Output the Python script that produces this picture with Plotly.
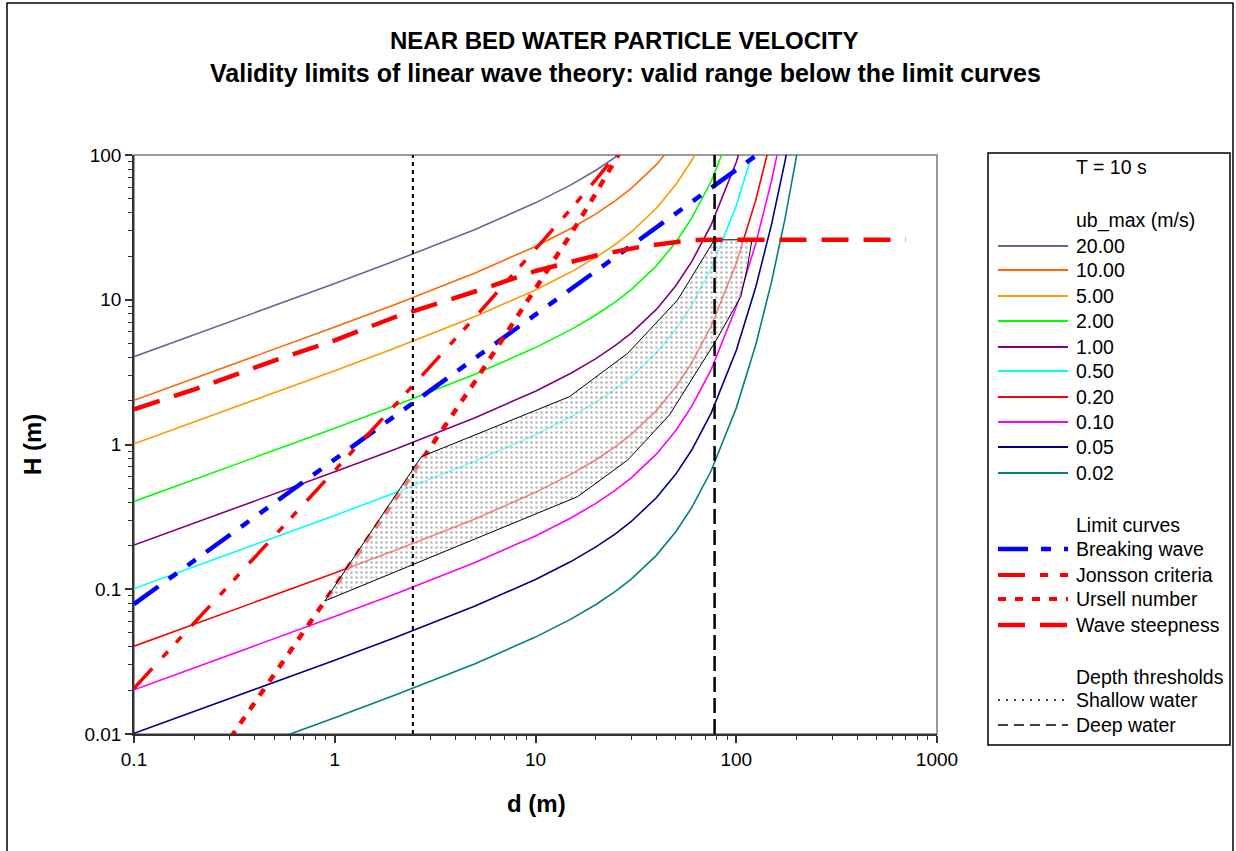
import plotly.graph_objects as go

# ---------------- data ----------------
d_grid = [0.1, 0.2, 0.5, 1, 2, 5, 10, 15, 20, 25, 30, 40, 50, 60, 75, 100, 125, 150, 175, 200, 250]

velocity_labels = ["20.00", "10.00", "5.00", "2.00", "1.00", "0.50", "0.20", "0.10", "0.05", "0.02"]
velocity_colors = ["#666699", "#FF6600", "#FF9900", "#00FF00", "#800080",
                   "#00FFFF", "#FF0000", "#FF00FF", "#000080", "#008080"]

H_u20 = [4.044, 5.728, 9.092, 12.94, 18.56, 30.62, 46.72, 62.14, 78.47, 96.65, 117.6]
H_u10 = [2.022, 2.864, 4.546, 6.472, 9.280, 15.31, 23.36, 31.07, 39.23, 48.32, 58.79, 85.76, 124.9]
H_u5 = [1.011, 1.432, 2.273, 3.236, 4.640, 7.656, 11.68, 15.53, 19.62, 24.16, 29.39, 42.88, 62.47, 91.61, 164.7]
H_u2 = [0.4044, 0.5728, 0.9092, 1.294, 1.856, 3.062, 4.672, 6.214, 7.847, 9.665, 11.76, 17.15, 24.99,
        36.64, 65.86, 178.4]
H_u1 = [0.2022, 0.2864, 0.4546, 0.6472, 0.9280, 1.531, 2.336, 3.107, 3.923, 4.832, 5.879, 8.576, 12.49,
        18.32, 32.93, 89.20, 243.5]
H_u05 = [0.1011, 0.1432, 0.2273, 0.3236, 0.4640, 0.7656, 1.168, 1.553, 1.962, 2.416, 2.939, 4.288, 6.247,
         9.161, 16.47, 44.60, 121.8]
H_u02 = [0.04044, 0.05728, 0.09092, 0.1294, 0.1856, 0.3062, 0.4672, 0.6214, 0.7847, 0.9665, 1.176, 1.715,
         2.499, 3.664, 6.586, 17.84, 48.70, 133.3]
H_u01 = [0.02022, 0.02864, 0.04546, 0.06472, 0.09280, 0.1531, 0.2336, 0.3107, 0.3923, 0.4832, 0.5879, 0.8576,
         1.249, 1.832, 3.293, 8.920, 24.35, 66.63, 181.7]
H_u005 = [0.01011, 0.01432, 0.02273, 0.03236, 0.04640, 0.07656, 0.1168, 0.1553, 0.1962, 0.2416, 0.2939,
          0.4288, 0.6247, 0.9161, 1.647, 4.460, 12.18, 33.32, 90.83, 249.1]
H_u002 = [0.004044, 0.005728, 0.009092, 0.01294, 0.01856, 0.03062, 0.04672, 0.06214, 0.07847, 0.09665,
          0.1176, 0.1715, 0.2499, 0.3664, 0.6586, 1.784, 4.870, 13.33, 36.33, 99.64, 744.5]
velocity_H = [H_u20, H_u10, H_u5, H_u2, H_u1, H_u05, H_u02, H_u01, H_u005, H_u002]

# limit curves
breaking_d = [0.1, 126.6]
breaking_H = [0.079, 100.0]

limit_d = [0.1, 0.2, 0.5, 1, 2, 5, 10, 15, 20, 25, 30]
jonsson_H = [0.02071, 0.05863, 0.2322, 0.6589, 1.876, 7.572, 22.19, 42.30, 67.65, 98.27, 134.4]
ursell_H = [0.001021, 0.00409, 0.02566, 0.1033, 0.4189, 2.729, 11.72, 28.39, 54.44, 91.92, 143.2]

steep_d = [0.1, 0.2, 0.5, 1, 2, 5, 10, 20, 35, 60, 78, 700]
steep_H = [1.75, 2.40, 3.80, 5.25, 7.6, 11.4, 15.8, 20.2, 23.5, 25.8, 26.0, 26.0]

# depth thresholds
shallow_d = 2.45
deep_d = 78.0
threshold_H = [0.01, 100]

# shaded (valid data) region
region_d = [0.892, 2.70, 14.76, 28.8, 51.0, 77.8, 119.7, 113.8, 105.4, 77.8, 46.5, 28.8, 16.2, 0.892]
region_H = [0.083, 0.824, 2.14, 4.27, 9.96, 25.9, 26.0, 16.9, 10.5, 5.0, 1.60, 0.781, 0.436, 0.083]

# ---------------- layout constants ----------------
W, H = 1236, 851
PL, PR, PT, PB = 134, 937, 155, 734
FONT = "Arial, Liberation Sans, sans-serif"


def px_x(px):
    return (px - PL) / (PR - PL)


def px_y(py):
    return (PB - py) / (PB - PT)


BREAK_DASH = "30px,13px,10px,13px,10px,13px"
JONS_DASH = "27px,15px,8px,12px,8px,15px"
URS_DASH = "8px,9px"
STEEP_DASH = "27px,15px"
SHALLOW_DASH = "4px,4px"
DEEP_DASH = "15px,6px"

fig = go.Figure()

for lab, col, hv in zip(velocity_labels, velocity_colors, velocity_H):
    fig.add_trace(go.Scatter(x=d_grid[:len(hv)], y=hv, mode="lines", name=lab,
                             line=dict(color=col, width=1.6), showlegend=False, hoverinfo="skip"))

fig.add_trace(go.Scatter(x=breaking_d, y=breaking_H, mode="lines", name="Breaking wave",
                         line=dict(color="#0000FF", width=4.5, dash=BREAK_DASH), showlegend=False))
fig.add_trace(go.Scatter(x=limit_d, y=jonsson_H, mode="lines", name="Jonsson criteria",
                         line=dict(color="#FF0000", width=3.5, dash=JONS_DASH), showlegend=False))
fig.add_trace(go.Scatter(x=limit_d, y=ursell_H, mode="lines", name="Ursell number",
                         line=dict(color="#FF0000", width=4.5, dash=URS_DASH), showlegend=False))

# shaded region (drawn over the curves, semi transparent)
fig.add_trace(go.Scatter(x=region_d, y=region_H, mode="lines", fill="toself",
                         fillcolor="rgba(255,255,255,0.5)",
                         fillpattern=dict(shape=".", fgcolor="#707070", bgcolor="rgba(255,255,255,0.5)",
                                          size=5, solidity=0.22),
                         line=dict(color="#000000", width=1), showlegend=False, hoverinfo="skip"))

fig.add_trace(go.Scatter(x=steep_d, y=steep_H, mode="lines", name="Wave steepness",
                         line=dict(color="#FF0000", width=4.5, dash=STEEP_DASH), showlegend=False))

fig.add_trace(go.Scatter(x=[shallow_d, shallow_d], y=threshold_H, mode="lines", name="Shallow water",
                         line=dict(color="#000000", width=2, dash=SHALLOW_DASH), showlegend=False))
fig.add_trace(go.Scatter(x=[deep_d, deep_d], y=threshold_H, mode="lines", name="Deep water",
                         line=dict(color="#000000", width=2.5, dash=DEEP_DASH), showlegend=False))

shapes = []
annotations = []

# outer chart border
shapes.append(dict(type="rect", xref="paper", yref="paper", x0=px_x(7), x1=px_x(1233),
                   y0=px_y(860), y1=px_y(3), line=dict(color="#000000", width=1.5), layer="below"))
# plot area frame (top / right grey)
shapes.append(dict(type="rect", xref="paper", yref="paper", x0=0, x1=1, y0=0, y1=1,
                   line=dict(color="#999999", width=2), layer="below"))

# titles
annotations.append(dict(text="<b>NEAR BED WATER PARTICLE VELOCITY</b>", x=px_x(624), y=px_y(41),
                        xref="paper", yref="paper", showarrow=False, xanchor="center", yanchor="middle",
                        font=dict(family=FONT, size=24, color="#000000")))
annotations.append(dict(text="<b>Validity limits of linear wave theory: valid range below the limit curves</b>",
                        x=px_x(625), y=px_y(73), xref="paper", yref="paper", showarrow=False,
                        xanchor="center", yanchor="middle", font=dict(family=FONT, size=25, color="#000000")))
annotations.append(dict(text="<b>d (m)</b>", x=px_x(536), y=px_y(803), xref="paper", yref="paper",
                        showarrow=False, xanchor="center", yanchor="middle",
                        font=dict(family=FONT, size=24, color="#000000")))
annotations.append(dict(text="<b>H (m)</b>", x=px_x(33), y=px_y(445), xref="paper", yref="paper",
                        showarrow=False, xanchor="center", yanchor="middle", textangle=-90,
                        font=dict(family=FONT, size=24, color="#000000")))

# ---------------- custom legend ----------------
LX0, LX1, LTX = 998, 1068, 1074
shapes.append(dict(type="rect", xref="paper", yref="paper", x0=px_x(988), x1=px_x(1230),
                   y0=px_y(745), y1=px_y(153), line=dict(color="#000000", width=1.5),
                   fillcolor="#FFFFFF", layer="below"))

legend_rows = [
    ("T = 10 s", 167, None),
    ("ub_max (m/s)", 220, None),
]
vel_rows_y = [246, 270, 296, 321, 347, 371, 397, 422, 447, 473]
for lab, col, yy in zip(velocity_labels, velocity_colors, vel_rows_y):
    legend_rows.append((lab, yy, dict(color=col, width=2, dash="solid")))
legend_rows += [
    ("Limit curves", 525, None),
    ("Breaking wave", 549, dict(color="#0000FF", width=4.5, dash=BREAK_DASH)),
    ("Jonsson criteria", 575, dict(color="#FF0000", width=4, dash=JONS_DASH)),
    ("Ursell number", 599, dict(color="#FF0000", width=4, dash=URS_DASH)),
    ("Wave steepness", 625, dict(color="#FF0000", width=4.5, dash=STEEP_DASH)),
    ("Depth thresholds", 677, None),
    ("Shallow water", 700, dict(color="#000000", width=1.5, dash="2px,6px")),
    ("Deep water", 725, dict(color="#000000", width=1.5, dash="10px,6px")),
]
for txt, yy, ln in legend_rows:
    annotations.append(dict(text=txt, x=px_x(LTX), y=px_y(yy), xref="paper", yref="paper",
                            showarrow=False, xanchor="left", yanchor="middle",
                            font=dict(family=FONT, size=19.5, color="#000000")))
    if ln is not None:
        shapes.append(dict(type="line", xref="paper", yref="paper", x0=px_x(LX0), x1=px_x(LX1),
                           y0=px_y(yy), y1=px_y(yy), line=ln))

minor_x = [m * 10 ** e for e in (-1, 0, 1, 2) for m in range(2, 10)]
minor_y = [m * 10 ** e for e in (-2, -1, 0, 1) for m in range(2, 10)]

axis_common = dict(type="log", showgrid=False, zeroline=False, showline=True, linecolor="#333333",
                   linewidth=1.5, ticks="outside", ticklen=7, tickwidth=1.5, tickcolor="#333333",
                   tickfont=dict(family=FONT, size=19, color="#000000"))

fig.update_layout(
    width=W, height=H,
    margin=dict(l=PL, r=W - PR, t=PT, b=H - PB, pad=0),
    paper_bgcolor="#FFFFFF", plot_bgcolor="#FFFFFF",
    showlegend=False,
    xaxis=dict(range=[-1, 3], tickvals=[0.1, 1, 10, 100, 1000], ticktext=["0.1", "1", "10", "100", "1000"],
               minor=dict(tickvals=minor_x, ticks="outside", ticklen=4, tickwidth=1, tickcolor="#333333"),
               **axis_common),
    yaxis=dict(range=[-2, 2], tickvals=[0.01, 0.1, 1, 10, 100], ticktext=["0.01", "0.1", "1", "10", "100"],
               minor=dict(tickvals=minor_y, ticks="outside", ticklen=4, tickwidth=1, tickcolor="#333333"),
               **axis_common),
    shapes=shapes,
    annotations=annotations,
)

fig.write_html("out.html")
